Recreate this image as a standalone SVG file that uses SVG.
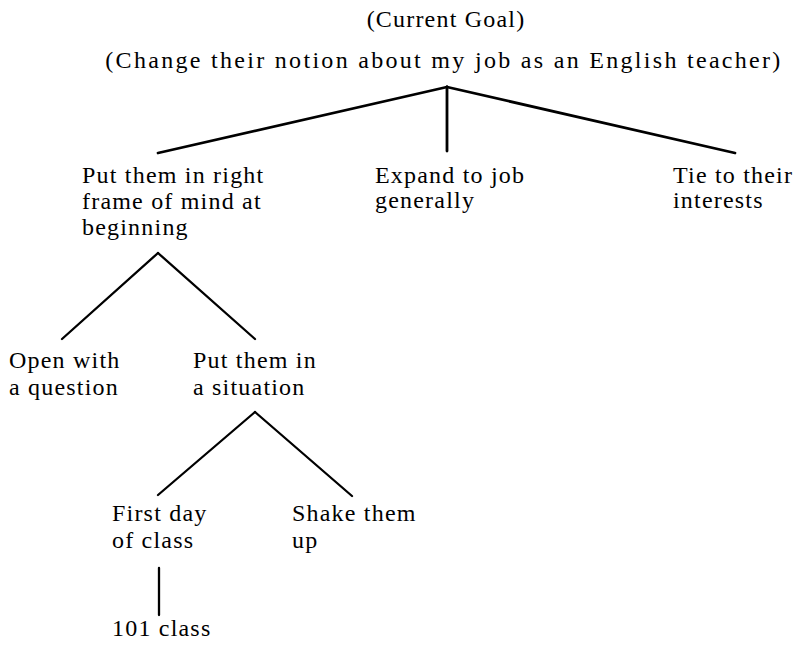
<svg xmlns="http://www.w3.org/2000/svg" width="805" height="652" viewBox="0 0 805 652">
<style>
text{font-family:"Liberation Serif","Times New Roman",serif;font-size:24px;letter-spacing:1.2px;fill:#000}
.c line{stroke:#000;stroke-linecap:round}
.t line{stroke-width:2.8}
.s line{stroke-width:2.3}
</style>
<rect width="805" height="652" fill="#fff"/>
<g id="goal">
<text x="446" y="27" text-anchor="middle">(Current Goal)</text>
<text x="444" y="68" text-anchor="middle" style="letter-spacing:2.3px">(Change their notion about my job as an English teacher)</text>
</g>
<g id="frame">
<text x="82" y="183">Put them in right</text>
<text x="82" y="209">frame of mind at</text>
<text x="82" y="235">beginning</text>
</g>
<g id="expand">
<text x="375" y="183">Expand to job</text>
<text x="375" y="208">generally</text>
</g>
<g id="tie">
<text x="673" y="183">Tie to their</text>
<text x="673" y="208">interests</text>
</g>
<g id="open">
<text x="9" y="368">Open with</text>
<text x="9" y="395">a question</text>
</g>
<g id="situation">
<text x="193" y="368">Put them in</text>
<text x="193" y="395">a situation</text>
</g>
<g id="firstday">
<text x="112" y="521">First day</text>
<text x="112" y="548">of class</text>
</g>
<g id="shake">
<text x="292" y="521">Shake them</text>
<text x="292" y="548">up</text>
</g>
<g id="c101">
<text x="112" y="636">101 class</text>
</g>
<g id="connectors" class="c">
<g class="t">
<line x1="447" y1="87" x2="158" y2="153"/>
<line x1="447" y1="87" x2="447" y2="151"/>
<line x1="447" y1="87" x2="735" y2="153"/>
</g>
<g class="s">
<line x1="158" y1="253" x2="62" y2="339"/>
<line x1="158" y1="253" x2="255" y2="339"/>
<line x1="255" y1="412" x2="158" y2="495"/>
<line x1="255" y1="412" x2="352" y2="496"/>
<line x1="159" y1="568" x2="159" y2="615"/>
</g>
</g>
</svg>
